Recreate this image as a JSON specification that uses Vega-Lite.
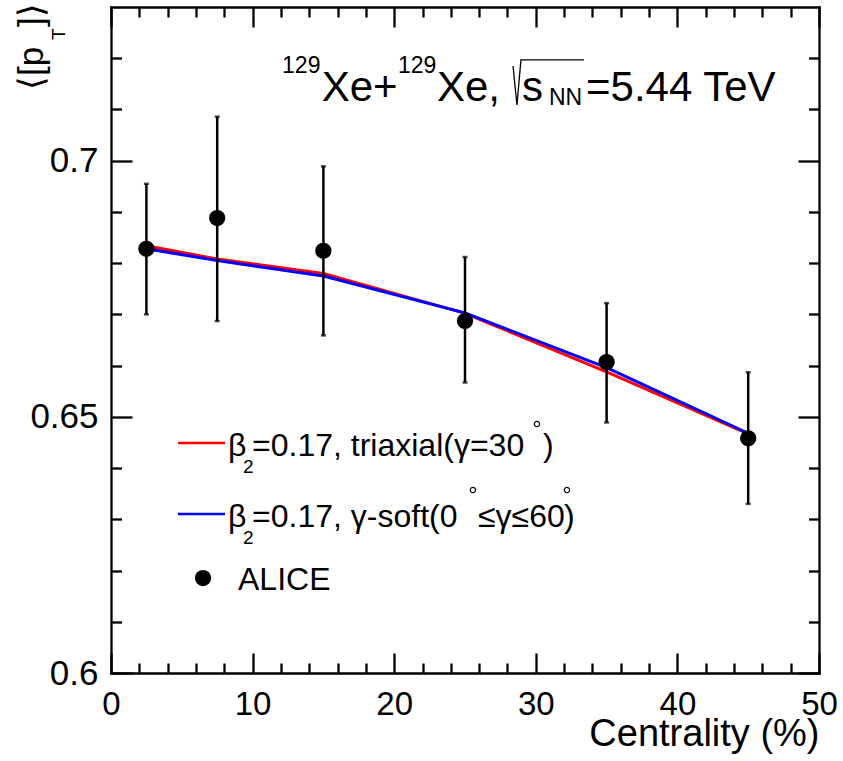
{
  "$schema": "https://vega.github.io/schema/vega-lite/v6.json",
  "width": 708,
  "height": 666,
  "autosize": {"type": "none"},
  "padding": {"left": 111, "top": 7, "right": 24, "bottom": 88},
  "background": "white",
  "config": {
    "view": {"stroke": null},
    "text": {"font": "Liberation Sans", "color": "black"},
    "axis": {
      "grid": false, "domainColor": "black", "tickColor": "black", "labelColor": "black", "titleColor": "black",
      "domainWidth": 2.3, "tickWidth": 2.3, "domainCap": "square",
      "labelFont": "Liberation Sans", "titleFont": "Liberation Sans",
      "labelFontSize": 33, "titleFontSize": 38, "titleFontWeight": "normal",
      "labelFlush": false, "labelOverlap": false
    }
  },
  "datasets": {
    "model": [
      {"model": "triaxial", "c": 2.5, "v": 0.6834},
      {"model": "triaxial", "c": 7.5, "v": 0.6808},
      {"model": "triaxial", "c": 15, "v": 0.6780},
      {"model": "triaxial", "c": 25, "v": 0.6702},
      {"model": "triaxial", "c": 35, "v": 0.6588},
      {"model": "triaxial", "c": 45, "v": 0.6467},
      {"model": "soft", "c": 2.5, "v": 0.6828},
      {"model": "soft", "c": 7.5, "v": 0.6805},
      {"model": "soft", "c": 15, "v": 0.6775},
      {"model": "soft", "c": 25, "v": 0.6703},
      {"model": "soft", "c": 35, "v": 0.6596},
      {"model": "soft", "c": 45, "v": 0.6468}
    ],
    "alice": [
      {"c": 2.5, "v": 0.6828, "lo": 0.6700, "hi": 0.6955},
      {"c": 7.5, "v": 0.6888, "lo": 0.6687, "hi": 0.7086},
      {"c": 15, "v": 0.6824, "lo": 0.6659, "hi": 0.6989},
      {"c": 25, "v": 0.6687, "lo": 0.6567, "hi": 0.6812},
      {"c": 35, "v": 0.6607, "lo": 0.6489, "hi": 0.6722},
      {"c": 45, "v": 0.6458, "lo": 0.6330, "hi": 0.6587}
    ]
  },
  "layer": [
    {
      "data": {"name": "model"},
      "transform": [{"filter": "datum.model === 'triaxial'"}],
      "mark": {"type": "line", "stroke": "#ff0000", "strokeWidth": 3},
      "encoding": {
        "x": {"field": "c", "type": "quantitative",
          "scale": {"domain": [0, 50], "nice": false, "zero": false},
          "axis": {"orient": "bottom", "values": [0,2,4,6,8,10,12,14,16,18,20,22,24,26,28,30,32,34,36,38,40,42,44,46,48,50],
            "tickSize": {"condition": {"test": "datum.value % 10 === 0", "value": -20}, "value": -10},
            "labelExpr": "datum.value % 10 === 0 ? format(datum.value, 'd') : ''",
            "labelPadding": 35, "labelBaseline": "top",
            "title": "Centrality (%)", "titleAnchor": "end", "titleAlign": "right", "titleX": 708, "titleY": 72, "titleBaseline": "alphabetic"}},
        "y": {"field": "v", "type": "quantitative",
          "scale": {"domain": [0.6, 0.73], "nice": false, "zero": false},
          "axis": {"orient": "left", "values": [0.6,0.61,0.62,0.63,0.64,0.65,0.66,0.67,0.68,0.69,0.7,0.71,0.72],
            "tickSize": {"condition": {"test": "round(datum.value*100) % 5 === 0", "value": -21}, "value": -10.5},
            "labelExpr": "round(datum.value*100) % 5 === 0 ? format(datum.value, '~g') : ''",
            "labelFontSize": 35, "labelPadding": 34, "title": null}}
      }
    },
    {
      "data": {"name": "model"},
      "transform": [{"filter": "datum.model === 'soft'"}],
      "mark": {"type": "line", "stroke": "#0000ff", "strokeWidth": 3},
      "encoding": {
        "x": {"field": "c", "type": "quantitative",
          "axis": {"orient": "top", "values": [0,2,4,6,8,10,12,14,16,18,20,22,24,26,28,30,32,34,36,38,40,42,44,46,48,50],
            "tickSize": {"condition": {"test": "datum.value % 10 === 0", "value": -20}, "value": -10},
            "labels": false, "title": null}},
        "y": {"field": "v", "type": "quantitative",
          "axis": {"orient": "right", "values": [0.6,0.61,0.62,0.63,0.64,0.65,0.66,0.67,0.68,0.69,0.7,0.71,0.72],
            "tickSize": {"condition": {"test": "round(datum.value*100) % 5 === 0", "value": -21}, "value": -10.5},
            "labels": false, "title": null}}
      }
    },
    {
      "data": {"name": "alice"},
      "mark": {"type": "rule", "color": "black", "strokeWidth": 2.5},
      "encoding": {
        "x": {"field": "c", "type": "quantitative", "axis": null},
        "y": {"field": "lo", "type": "quantitative", "axis": null},
        "y2": {"field": "hi"}
      }
    },
    {
      "data": {"name": "alice"},
      "mark": {"type": "tick", "orient": "horizontal", "color": "black", "size": 5, "thickness": 2.5},
      "encoding": {
        "x": {"field": "c", "type": "quantitative", "axis": null},
        "y": {"field": "lo", "type": "quantitative", "axis": null}
      }
    },
    {
      "data": {"name": "alice"},
      "mark": {"type": "tick", "orient": "horizontal", "color": "black", "size": 5, "thickness": 2.5},
      "encoding": {
        "x": {"field": "c", "type": "quantitative", "axis": null},
        "y": {"field": "hi", "type": "quantitative", "axis": null}
      }
    },
    {
      "data": {"name": "alice"},
      "mark": {"type": "point", "shape": "circle", "filled": true, "color": "black", "opacity": 1, "size": 265},
      "encoding": {
        "x": {"field": "c", "type": "quantitative", "axis": null},
        "y": {"field": "v", "type": "quantitative", "axis": null}
      }
    },
    {
      "data": {"values": [{"x": 4.73, "x2": 8.05, "y": 0.6449}]},
      "mark": {"type": "rule", "color": "#ff0000", "strokeWidth": 2.5},
      "encoding": {
        "x": {"field": "x", "type": "quantitative", "axis": null},
        "x2": {"field": "x2"},
        "y": {"field": "y", "type": "quantitative", "axis": null}
      }
    },
    {
      "data": {"values": [{"x": 4.73, "x2": 8.05, "y": 0.63104}]},
      "mark": {"type": "rule", "color": "#0000ff", "strokeWidth": 2.5},
      "encoding": {
        "x": {"field": "x", "type": "quantitative", "axis": null},
        "x2": {"field": "x2"},
        "y": {"field": "y", "type": "quantitative", "axis": null}
      }
    },
    {
      "data": {"values": [{"x": 6.5, "y": 0.61854}]},
      "mark": {"type": "point", "shape": "circle", "filled": true, "color": "black", "opacity": 1, "size": 265},
      "encoding": {
        "x": {"field": "x", "type": "quantitative", "axis": null},
        "y": {"field": "y", "type": "quantitative", "axis": null}
      }
    },
    {
      "data": {"values": [
        {"x": 8.26, "y": 0.64236, "t": "β"},
        {"x": 9.96, "y": 0.64236, "t": "=0.17, triaxial(γ=30"},
        {"x": 30.5, "y": 0.64236, "t": ")"},
        {"x": 8.26, "y": 0.6285, "t": "β"},
        {"x": 9.96, "y": 0.6285, "t": "=0.17, γ-soft(0"},
        {"x": 25.92, "y": 0.6285, "t": "≤γ≤60"},
        {"x": 32.0, "y": 0.6285, "t": ")"},
        {"x": 8.97, "y": 0.6162, "t": "ALICE"}
      ]},
      "mark": {"type": "text", "fontSize": 32, "align": "left", "baseline": "alphabetic"},
      "encoding": {
        "x": {"field": "x", "type": "quantitative", "axis": null},
        "y": {"field": "y", "type": "quantitative", "axis": null},
        "text": {"field": "t"}
      }
    },
    {
      "data": {"values": [
        {"x": 9.32, "y": 0.63904, "t": "2"},
        {"x": 9.32, "y": 0.62518, "t": "2"}
      ]},
      "mark": {"type": "text", "fontSize": 19, "align": "left", "baseline": "alphabetic"},
      "encoding": {
        "x": {"field": "x", "type": "quantitative", "axis": null},
        "y": {"field": "y", "type": "quantitative", "axis": null},
        "text": {"field": "t"}
      }
    },
    {
      "data": {"values": [
        {"x": 30.08, "y": 0.6486},
        {"x": 25.56, "y": 0.63572},
        {"x": 32.2, "y": 0.63572}
      ]},
      "mark": {"type": "point", "shape": "circle", "filled": false, "color": "black", "strokeWidth": 1.2, "opacity": 1, "size": 28},
      "encoding": {
        "x": {"field": "x", "type": "quantitative", "axis": null},
        "y": {"field": "y", "type": "quantitative", "axis": null}
      }
    },
    {
      "data": {"values": [
        {"x": 14.88, "y": 0.71165, "t": "Xe+"},
        {"x": 23.02, "y": 0.71165, "t": "Xe,"},
        {"x": 29.03, "y": 0.71165, "t": "s"},
        {"x": 33.55, "y": 0.71165, "t": "=5.44 TeV"}
      ]},
      "mark": {"type": "text", "fontSize": 42, "align": "left", "baseline": "alphabetic"},
      "encoding": {
        "x": {"field": "x", "type": "quantitative", "axis": null},
        "y": {"field": "y", "type": "quantitative", "axis": null},
        "text": {"field": "t"}
      }
    },
    {
      "data": {"values": [
        {"x": 12.08, "y": 0.71712, "t": "129"},
        {"x": 20.27, "y": 0.71712, "t": "129"},
        {"x": 30.93, "y": 0.71087, "t": "NN"}
      ]},
      "mark": {"type": "text", "fontSize": 23, "align": "left", "baseline": "alphabetic"},
      "encoding": {
        "x": {"field": "x", "type": "quantitative", "axis": null},
        "y": {"field": "y", "type": "quantitative", "axis": null},
        "text": {"field": "t"}
      }
    },
    {
      "data": {"values": [
        {"x": 28.39, "y": 0.71849, "o": 1},
        {"x": 28.67, "y": 0.71087, "o": 2},
        {"x": 28.95, "y": 0.71966, "o": 3},
        {"x": 33.4, "y": 0.71966, "o": 4}
      ]},
      "mark": {"type": "line", "color": "black", "strokeWidth": 1.3},
      "encoding": {
        "x": {"field": "x", "type": "quantitative", "axis": null},
        "y": {"field": "y", "type": "quantitative", "axis": null},
        "order": {"field": "o"}
      }
    },
    {
      "data": {"values": [
        {"x": -4.8, "y": 0.7138, "t": "⟨[p"},
        {"x": -4.8, "y": 0.7261, "t": "]⟩"}
      ]},
      "mark": {"type": "text", "fontSize": 35, "align": "left", "baseline": "alphabetic", "angle": 270},
      "encoding": {
        "x": {"field": "x", "type": "quantitative", "axis": null},
        "y": {"field": "y", "type": "quantitative", "axis": null},
        "text": {"field": "t"}
      }
    },
    {
      "data": {"values": [
        {"x": -3.25, "y": 0.72356, "t": "T"}
      ]},
      "mark": {"type": "text", "fontSize": 19, "align": "left", "baseline": "alphabetic", "angle": 270},
      "encoding": {
        "x": {"field": "x", "type": "quantitative", "axis": null},
        "y": {"field": "y", "type": "quantitative", "axis": null},
        "text": {"field": "t"}
      }
    }
  ],
  "resolve": {"axis": {"x": "independent", "y": "independent"}}
}
